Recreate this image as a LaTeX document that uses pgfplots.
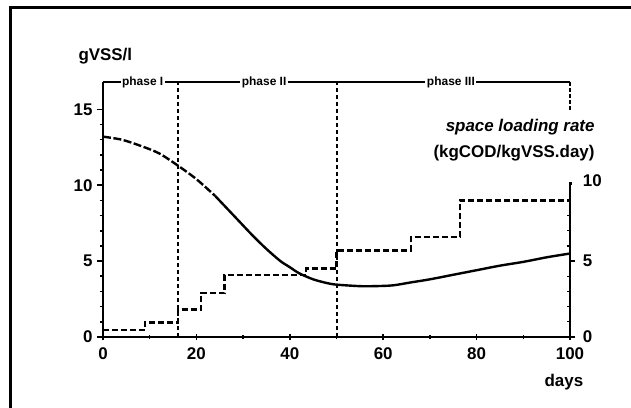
\documentclass[border=0pt]{standalone}
\usepackage{fontspec}
\setmainfont{Liberation Sans}
\usepackage{pgfplots}
\pgfplotsset{compat=1.18}
\begin{document}
\begin{tikzpicture}
\begin{axis}[name=ax, scale only axis, width=467bp, height=255bp,
  xmin=0, xmax=100, ymin=0, ymax=16.8, clip=false,
  axis x line*=bottom, axis y line*=left,
  axis line style={line width=2.4bp, -},
  xtick={0,20,40,60,80,100}, ytick={0,5,10,15},
  minor x tick num=1, minor y tick num=4,
  /pgf/number format/assume math mode=true,
  ticklabel style={font=\bfseries\fontsize{17}{18}\selectfont},
  major tick length=6bp, minor tick length=3bp,
  every tick/.style={line width=1.6bp, black},
  xtick align=center, ytick align=outside,
  xticklabel style={yshift=-4bp},
  yticklabel style={xshift=-1bp},
]
% phase lines
\draw[line width=2bp] (axis cs:0,16.8) -- (axis cs:100,16.8);
\draw[line width=2bp, dash pattern=on 4bp off 3bp] (axis cs:16,0) -- (axis cs:16,16.8);
\draw[line width=2bp, dash pattern=on 4bp off 3bp] (axis cs:50,0) -- (axis cs:50,16.8);
\draw[line width=2bp, dash pattern=on 4bp off 2bp] (axis cs:100,16.8) -- (axis cs:100,14.9);
\node[fill=white, inner sep=1.5bp, font=\bfseries\fontsize{12}{13}\selectfont] at (axis cs:8.5,16.8) {phase I};
\node[fill=white, inner sep=1.5bp, font=\bfseries\fontsize{12}{13}\selectfont] at (axis cs:34.5,16.8) {phase II};
\node[fill=white, inner sep=1.5bp, font=\bfseries\fontsize{12}{13}\selectfont] at (axis cs:74.5,16.8) {phase III};
% biomass concentration curve
\addplot[line width=2.4bp, smooth, dash pattern=on 8bp off 2.5bp] coordinates {
(0,13.2) (4,13.0) (8,12.6) (12,12.1) (16,11.3) (20,10.4) (24,9.3)};
\addplot[line width=2.4bp, smooth] coordinates {
(24,9.3) (28,8.0) (32,6.7) (35,5.8) (38,5.0) (40,4.6) (42,4.2) (45,3.8) (48,3.55) (50,3.45) (55,3.35) (58,3.35) (62,3.4) (66,3.6) (70,3.8) (75,4.1) (80,4.4) (85,4.7) (90,4.95) (95,5.25) (100,5.5)};
% space loading rate (steps)
\addplot[line width=2.4bp, const plot, dash pattern=on 6bp off 3bp] coordinates {
(0,0.45) (9,0.95) (16,1.8) (21,2.9) (26,4.1) (43.5,4.5) (50,5.7) (66,6.6) (76.5,9.0) (100,9.0)};
% right axis
\draw[line width=2.4bp] (axis cs:100,0) -- (axis cs:100,10.1) -- ++(2bp,0);
\pgfplotsinvokeforeach{1,2,3,4,6,7,8,9}{\draw[line width=1.2bp] (axis cs:100,#1) -- ++(-3bp,0);}
\pgfplotsinvokeforeach{0,5}{\draw[line width=1.6bp] (axis cs:100,#1) -- ++(5bp,0);}
\node[anchor=west, font=\bfseries\fontsize{17}{18}\selectfont] at (axis cs:102,0) {0};
\node[anchor=west, font=\bfseries\fontsize{17}{18}\selectfont] at (axis cs:102,5) {5};
\node[anchor=west, font=\bfseries\fontsize{17}{18}\selectfont] at (axis cs:102,10.3) {10};
% labels
\node[font=\bfseries\fontsize{17}{18}\selectfont] at (axis cs:0.5,18.5) {gVSS/l};
\node[font=\bfseries\fontsize{17}{18}\selectfont] at (axis cs:98.7,-3.0) {days};
\node[anchor=east, font=\bfseries\itshape\fontsize{17}{18}\selectfont] at (axis cs:106,13.8) {space loading rate};
\node[anchor=east, font=\bfseries\fontsize{17}{18}\selectfont] at (axis cs:106,12.1) {(kgCOD/kgVSS.day)};
\end{axis}
\draw[line width=3bp, shift={(ax.south west)}] (-92bp,-90bp) -- (-92bp,329bp) -- (560bp,329bp);
\pgfresetboundingbox
\path[use as bounding box, shift={(ax.south west)}] (-103bp,-71bp) rectangle (528bp,337bp);
\end{tikzpicture}
\end{document}
